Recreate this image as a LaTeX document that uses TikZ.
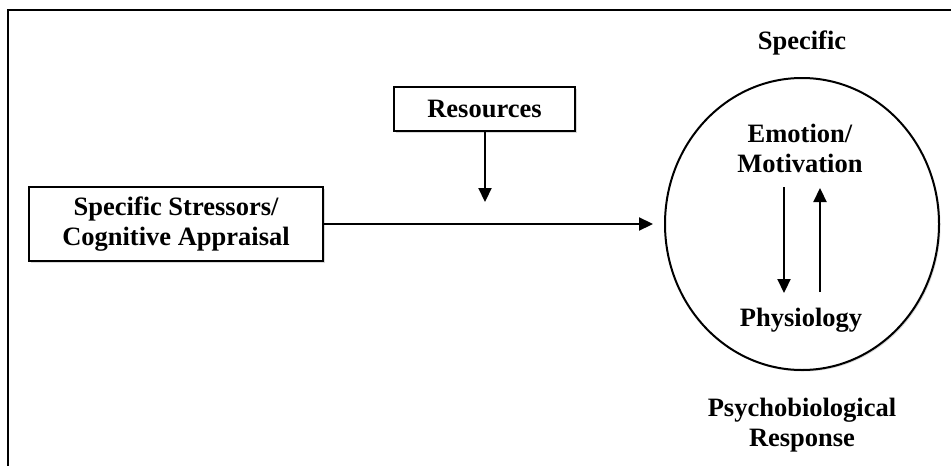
\documentclass[tikz,border=0pt]{standalone}
\usepackage{fontspec}
\setmainfont{Liberation Serif}
\usetikzlibrary{arrows.meta,shadows,shapes.geometric}
\begin{document}
\begin{tikzpicture}[x=1pt,y=-1pt,
  txt/.style={font=\fontsize{26.5}{30}\selectfont\bfseries, align=center, inner sep=0pt},
  boxnode/.style={draw, line width=2.2pt, fill=white, drop shadow={shadow xshift=2pt, shadow yshift=-2pt, opacity=0.3}},
  arr/.style={line width=2.2pt, -{Triangle[length=14pt,width=13pt]}}]
\useasboundingbox (0,0) rectangle (951,466);
\draw[line width=2.4pt] (8,466) -- (8,10) -- (951,10);
% boxes
\node[boxnode, minimum width=294pt, minimum height=74pt, txt] (stress) at (176,224) {Specific Stressors/\\Cognitive Appraisal};
\node[boxnode, minimum width=181pt, minimum height=44pt, txt] (res) at (484.5,109) {Resources};
% circle
\node[draw, line width=2pt, ellipse, minimum width=274pt, minimum height=292pt, inner sep=0pt,
  drop shadow={shadow xshift=1.5pt, shadow yshift=-1.5pt, opacity=0.3}, fill=white] (circ) at (802,224) {};
\node[txt] (spec) at (802,43) {Specific};
\node[txt] (emo) at (800,148) {Emotion/\\Motivation};
\node[txt] (phys) at (801,320) {Physiology};
\node[txt] (psy) at (802,425) {Psychobiological\\Response};
\coordinate (tip) at (485,202);
\coordinate (d1) at (784,187);
\coordinate (d2) at (784,293);
\coordinate (u1) at (820,292);
\coordinate (u2) at (820,188);
\coordinate (main) at (653,224);
\draw[arr] (stress.east) -- (main);
\draw[arr] (res.south -| tip) -- (tip);
\draw[arr] (d1) -- (d2);
\draw[arr] (u1) -- (u2);
\end{tikzpicture}
\end{document}
